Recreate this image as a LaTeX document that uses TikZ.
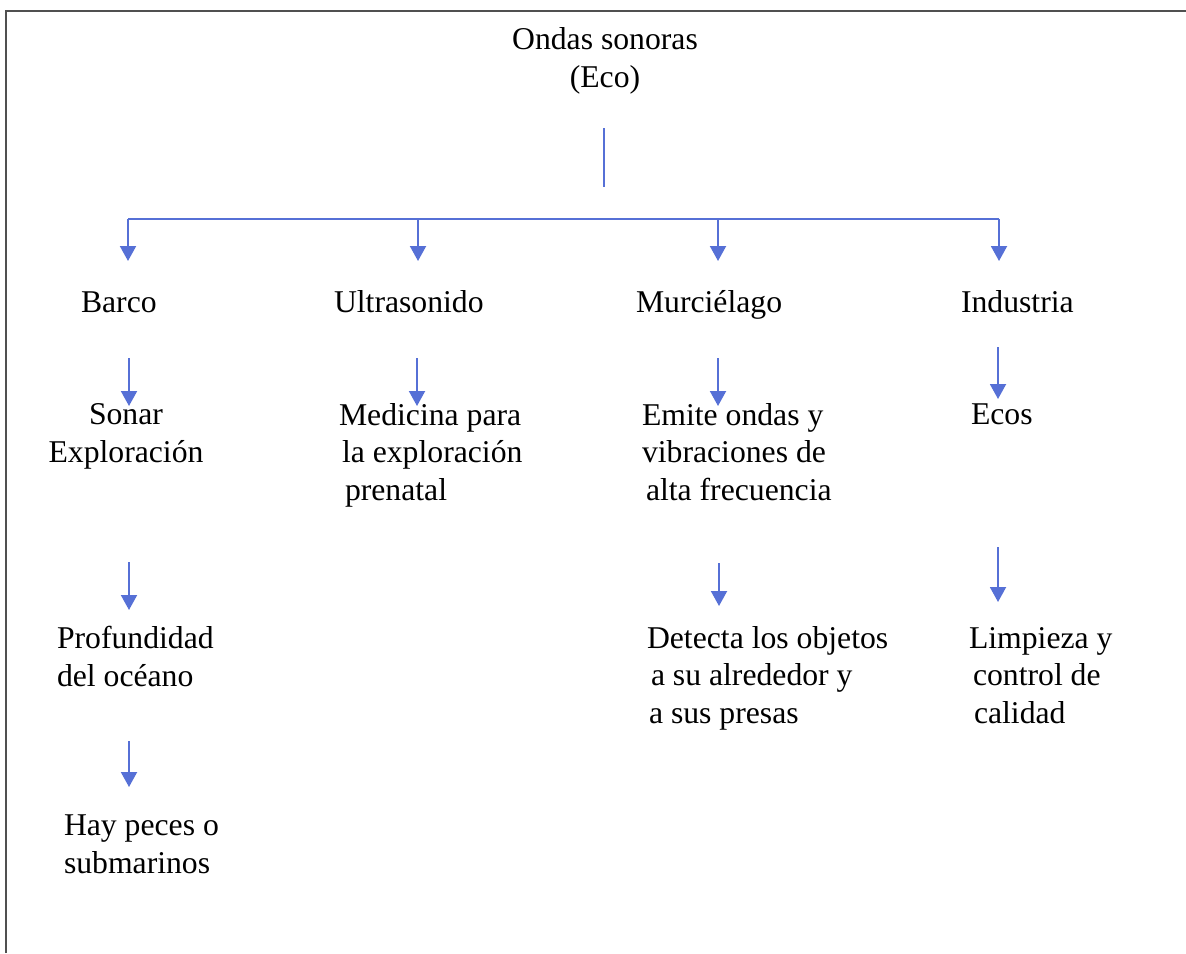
\documentclass[tikz,border=0pt]{standalone}
\usepackage{fontspec}
\setmainfont{Liberation Serif}
\usetikzlibrary{arrows.meta}
\definecolor{arrblue}{RGB}{86,112,214}
\definecolor{framegray}{RGB}{80,80,80}
\tikzset{
  lbl/.style={inner sep=0pt, outer sep=0pt, font=\fontsize{15.85pt}{18.75pt}\selectfont, anchor=base west, align=left},
  lblc/.style={lbl, anchor=base, align=center},
  conn/.style={draw=arrblue, line width=1pt},
  arr/.style={conn, -{Triangle[width=8pt,length=7.5pt]}},
}
\begin{document}
\begin{tikzpicture}[x=0.5pt,y=-0.5pt]
\useasboundingbox (0,0) rectangle (1186,953);
% frame (partially visible)
\coordinate (fbl) at (6,953);
\coordinate (ftl) at (6,11);
\coordinate (ftr) at (1186,11);
\draw[framegray, line width=1pt] (fbl) -- (ftl) -- (ftr);

% texts (multi-line nodes are placed by the baseline of their last line)
\node[lblc] (root) at (605,87) {Ondas sonoras\\(Eco)};
\node[lbl] (barco) at (81,312) {Barco};
\node[lbl] (ultra) at (334,312) {Ultrasonido};
\node[lbl] (murc) at (636,312) {Murciélago};
\node[lbl] (indu) at (961,312) {Industria};

\node[lblc] (sonar) at (126,462) {Sonar\\Exploración};
\node[lbl] (medi) at (339,500) {Medicina para\\\hspace*{1.5pt}la exploración\\\hspace*{3pt}prenatal};
\node[lbl] (emite) at (642,500) {Emite ondas y\\vibraciones de\\\hspace*{2pt}alta frecuencia};
\node[lbl] (ecos) at (971,424) {Ecos};

\node[lbl] (prof) at (57,686) {Profundidad\\del océano};
\node[lbl] (detec) at (647,723) {Detecta los objetos\\\hspace*{2pt}a su alrededor y\\\hspace*{1pt}a sus presas};
\node[lbl] (limp) at (969,723) {Limpieza y\\\hspace*{2pt}control de\\\hspace*{2.5pt}calidad};

\node[lbl] (hay) at (64,873) {Hay peces o\\submarinos};

% trunk
\coordinate (st1) at (604,128);
\coordinate (st2) at (604,187);
\draw[conn] (st1) -- (st2);
\coordinate (bl) at (128,218.5);
\coordinate (bm) at (604,218.5);
\coordinate (br) at (999,218.5);
\draw[conn] (bl) -- (bm) -- (br);
\coordinate (d2) at (418,218.5);
\coordinate (d3) at (718,218.5);
\coordinate (t1) at (128,261);
\coordinate (t2) at (418,261);
\coordinate (t3) at (718,261);
\coordinate (t4) at (999,261);
\draw[arr] (bl) -- (t1);
\draw[arr] (d2) -- (t2);
\draw[arr] (d3) -- (t3);
\draw[arr] (br) -- (t4);

% level 1 -> 2
\coordinate (a1s) at (129,358); \coordinate (a1e) at (129,406);
\coordinate (a2s) at (417,358); \coordinate (a2e) at (417,406);
\coordinate (a3s) at (718,358); \coordinate (a3e) at (718,406);
\coordinate (a4s) at (998,347); \coordinate (a4e) at (998,399);
\draw[arr] (a1s) -- (a1e);
\draw[arr] (a2s) -- (a2e);
\draw[arr] (a3s) -- (a3e);
\draw[arr] (a4s) -- (a4e);

% level 2 -> 3
\coordinate (b1s) at (129,562); \coordinate (b1e) at (129,610);
\coordinate (b3s) at (719,563); \coordinate (b3e) at (719,606);
\coordinate (b4s) at (998,547); \coordinate (b4e) at (998,602);
\draw[arr] (b1s) -- (b1e);
\draw[arr] (b3s) -- (b3e);
\draw[arr] (b4s) -- (b4e);

% level 3 -> 4
\coordinate (c1s) at (129,741); \coordinate (c1e) at (129,787);
\draw[arr] (c1s) -- (c1e);
\end{tikzpicture}
\end{document}
